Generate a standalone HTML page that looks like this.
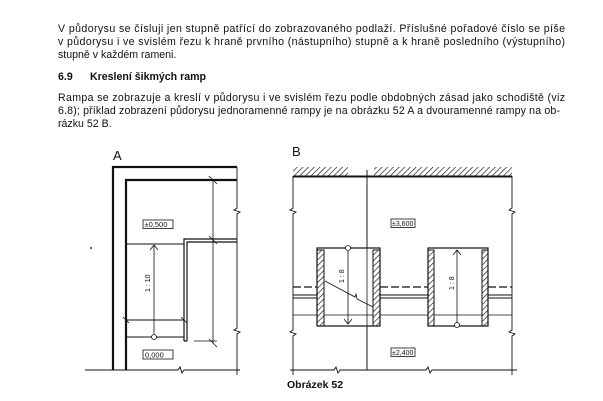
<!DOCTYPE html>
<html><head><meta charset="utf-8"><style>
html,body{margin:0;padding:0;background:#fff;width:603px;height:401px;overflow:hidden}
svg{display:block}
text{font-family:"Liberation Sans",sans-serif;fill:#111}
</style></head><body>
<svg width="603" height="401" viewBox="0 0 603 401" xmlns="http://www.w3.org/2000/svg">
<defs>
<pattern id="h" width="4" height="4" patternUnits="userSpaceOnUse" patternTransform="rotate(45)">
<line x1="0" y1="0" x2="0" y2="4" stroke="#111" stroke-width="1.3"/></pattern>
</defs>
<g font-size="10.6">
<text x="58" y="32" textLength="507" lengthAdjust="spacing">V půdorysu se čísluji jen stupně patřící do zobrazovaného podlaží. Příslušné pořadové číslo se píše</text>
<text x="58" y="45" textLength="507" lengthAdjust="spacing">v půdorysu i ve svislém řezu k hraně prvního (nástupního) stupně a k hraně posledního (výstupního)</text>
<text x="58" y="58">stupně v každém rameni.</text>
<text x="58" y="80" font-weight="bold">6.9</text>
<text x="90" y="80" font-weight="bold">Kreslení šikmých ramp</text>
<text x="58" y="101" textLength="507" lengthAdjust="spacing">Rampa se zobrazuje a kreslí v půdorysu i ve svislém řezu podle obdobných zásad jako schodiště (viz</text>
<text x="58" y="114" textLength="502" lengthAdjust="spacing">6.8); příklad zobrazení půdorysu jednoramenné rampy je na obrázku 52 A a dvouramenné rampy na ob-</text>
<text x="58" y="127">rázku 52 B.</text>
</g>
<g stroke="#111" fill="none">
<!-- A -->
<text x="113" y="160" font-size="13" stroke="none">A</text>
<path d="M113 370 V167 H237" stroke-width="2.2"/>
<path d="M126 370 V180 H237" stroke-width="2.2"/>
<path d="M85 370 H178 l2 -3 l2 6 l2 -3 H240" stroke-width="1"/>
<path d="M237 167 V208 l-3 2 l6 2 l-3 2 V328 l-3 2 l6 2 l-3 2 V375" stroke-width="0.9"/>
<path d="M213 180 V343" stroke-width="0.8"/>
<path d="M209 176 l8 8 M209 236 l8 8 M209 339 l8 8" stroke-width="0.8"/>
<path d="M194 341 H217" stroke-width="0.8"/>
<path d="M184 341 V239 H237 M187 341 V242 H237 M184 341 H187" stroke-width="1.2"/>
<path d="M126 244 H184 M126 337 H184 M126 320 H184" stroke-width="0.9"/>
<path d="M123 317 l6 6 M181 317 l6 6" stroke-width="0.8"/>
<path d="M154 245 V334 M150 250 l4 -5 l4 5" stroke-width="0.8"/>
<circle cx="154" cy="337" r="2.5" stroke-width="0.8" fill="#fff"/>
<rect x="143" y="220" width="30" height="8.5" stroke-width="0.8"/>
<text x="144.5" y="227" font-size="7.5" stroke="none">±0,500</text>
<rect x="143" y="350" width="30" height="9" stroke-width="0.8"/>
<text x="145" y="357.5" font-size="7.5" stroke="none">0,000</text>
<text transform="translate(150,292) rotate(-90)" font-size="7" stroke="none">1 : 10</text>
<path d="M91 247 V249" stroke-width="1.2"/>
<!-- B -->
<text x="292" y="156" font-size="13" stroke="none">B</text>
<rect x="293" y="167" width="55" height="9" fill="url(#h)" stroke="none"/>
<rect x="374" y="167" width="138" height="9" fill="url(#h)" stroke="none"/>
<path d="M293 176.5 H512" stroke-width="2"/>
<path d="M293 176 V208 l-3 2 l6 2 l-3 2 V330 l-3 2 l6 2 l-3 2 V375" stroke-width="0.9"/>
<path d="M512 176 V208 l-3 2 l6 2 l-3 2 V330 l-3 2 l6 2 l-3 2 V375" stroke-width="0.9"/>
<path d="M367 170 V370" stroke-width="0.8"/>
<path d="M290 370 H334 l2 -3 l2 6 l2 -3 H426 l2 -3 l2 6 l2 -3 H517" stroke-width="0.9"/>
<path d="M293 287 H317 M380 287 H428 M488 287 H512" stroke-width="1.2" stroke-dasharray="8 3"/>
<path d="M293 295 H317 M293 298 H317 M380 295 H428 M380 298 H428 M488 295 H512 M488 298 H512" stroke-width="1"/>
<path d="M293 315 H512" stroke-width="0.7"/>
<rect x="317" y="248" width="63" height="78" stroke-width="1.2" fill="#fff"/>
<rect x="428" y="248" width="60" height="78" stroke-width="1.2" fill="#fff"/>
<rect x="317" y="250" width="7" height="76" fill="url(#h)" stroke-width="1"/>
<rect x="373" y="250" width="7" height="76" fill="url(#h)" stroke-width="1"/>
<rect x="428" y="250" width="6" height="76" fill="url(#h)" stroke-width="1"/>
<rect x="482" y="250" width="6" height="76" fill="url(#h)" stroke-width="1"/>
<path d="M324 315 H373 M434 315 H482" stroke-width="0.7"/>
<path d="M367 170 V370" stroke-width="0.8"/>
<path d="M348 251 V324 M344 319 l4 5 l4 -5" stroke-width="0.8"/>
<circle cx="348" cy="248" r="2.5" stroke-width="0.8" fill="#fff"/>
<path d="M325 281 L355 297 l1 -3 l1 5 L373 307" stroke-width="0.8"/>
<path d="M457 250 V323 M453 255 l4 -5 l4 5" stroke-width="0.8"/>
<circle cx="457" cy="325" r="2.5" stroke-width="0.8" fill="#fff"/>
<text transform="translate(344,283) rotate(-90)" font-size="7" stroke="none">1 : 8</text>
<text transform="translate(454,290) rotate(-90)" font-size="7" stroke="none">1 : 8</text>
<rect x="391" y="219" width="24" height="8.5" stroke-width="0.8"/>
<text x="392" y="226" font-size="7" stroke="none">±3,600</text>
<rect x="391" y="348" width="24" height="8.5" stroke-width="0.8"/>
<text x="392" y="355" font-size="7" stroke="none">±2,400</text>
</g>
<text x="287" y="388" font-size="10.5" font-weight="bold">Obrázek 52</text>
</svg>
</body></html>
